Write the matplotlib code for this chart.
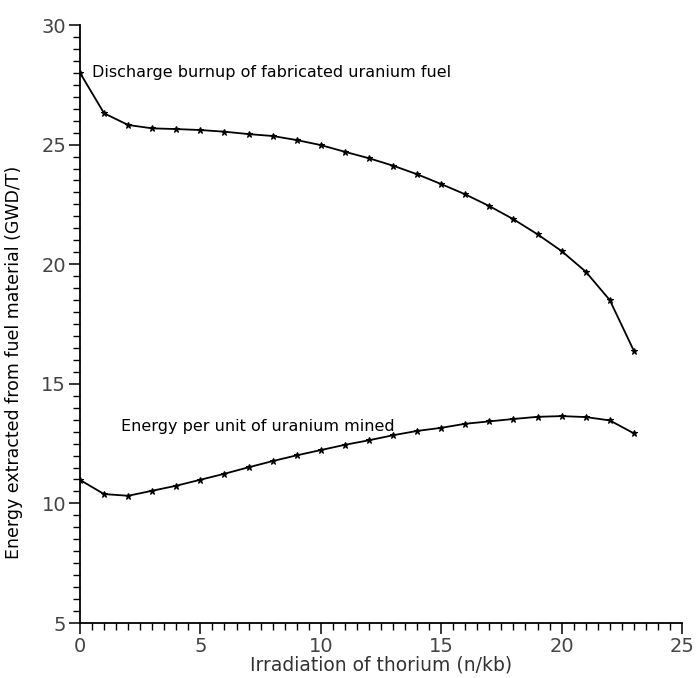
import matplotlib as mpl
mpl.use('Agg')
import matplotlib.pyplot as plt
import matplotlib.ticker as ticker

# irradiation of thorium (n/kb)
irr = [0, 1, 2, 3, 4, 5, 6, 7, 8, 9, 10, 11, 12, 13, 14, 15, 16, 17, 18, 19, 20, 21, 22, 23]

# discharge burnup of fabricated uranium fuel (GWD/T)
burnup = [28.0, 26.31, 25.82, 25.68, 25.65, 25.61, 25.54, 25.44, 25.36, 25.19, 24.98, 24.70,
          24.43, 24.12, 23.76, 23.35, 22.92, 22.43, 21.88, 21.25, 20.55, 19.69, 18.50, 16.38]

# energy per unit of uranium mined
mined = [10.98, 10.39, 10.32, 10.53, 10.74, 10.99, 11.24, 11.51, 11.77, 12.01, 12.23, 12.45,
         12.64, 12.85, 13.03, 13.16, 13.33, 13.43, 13.53, 13.62, 13.65, 13.61, 13.47, 12.93]

fig = plt.figure(figsize=(6.97, 6.78), dpi=100)
ax = fig.add_axes([0.1148, 0.0811, 0.8637, 0.882])

for y in (burnup, mined):
    ax.plot(irr, y, color='black', lw=1.3, marker='*', ms=5, mew=0.8)

ax.text(0.5, 28.0, 'Discharge burnup of fabricated uranium fuel', fontsize=11.5,
        va='center', ha='left')
ax.text(1.7, 13.2, 'Energy per unit of uranium mined', fontsize=11.5,
        va='center', ha='left')

ax.set_xlim(0, 25)
ax.set_ylim(5, 30)
ax.spines['top'].set_visible(False)
ax.spines['right'].set_visible(False)
ax.spines['left'].set_linewidth(1.3)
ax.spines['bottom'].set_linewidth(1.3)

ax.xaxis.set_major_locator(ticker.MultipleLocator(5))
ax.xaxis.set_minor_locator(ticker.MultipleLocator(0.5))
ax.yaxis.set_major_locator(ticker.MultipleLocator(5))
ax.yaxis.set_minor_locator(ticker.MultipleLocator(0.5))
ax.tick_params(axis='both', which='major', direction='out', length=8, width=1.1,
               labelsize=14, labelcolor='#444444', pad=2)
ax.tick_params(axis='both', which='minor', direction='out', length=5, width=1.0)

ax.set_xlabel('Irradiation of thorium (n/kb)', fontsize=13.5, color='#333333', labelpad=0)
ax.set_ylabel('Energy extracted from fuel material (GWD/T)', fontsize=12.5)
ax.yaxis.set_label_coords(-0.095, 0.436)

fig.savefig('out.png', dpi=100)
